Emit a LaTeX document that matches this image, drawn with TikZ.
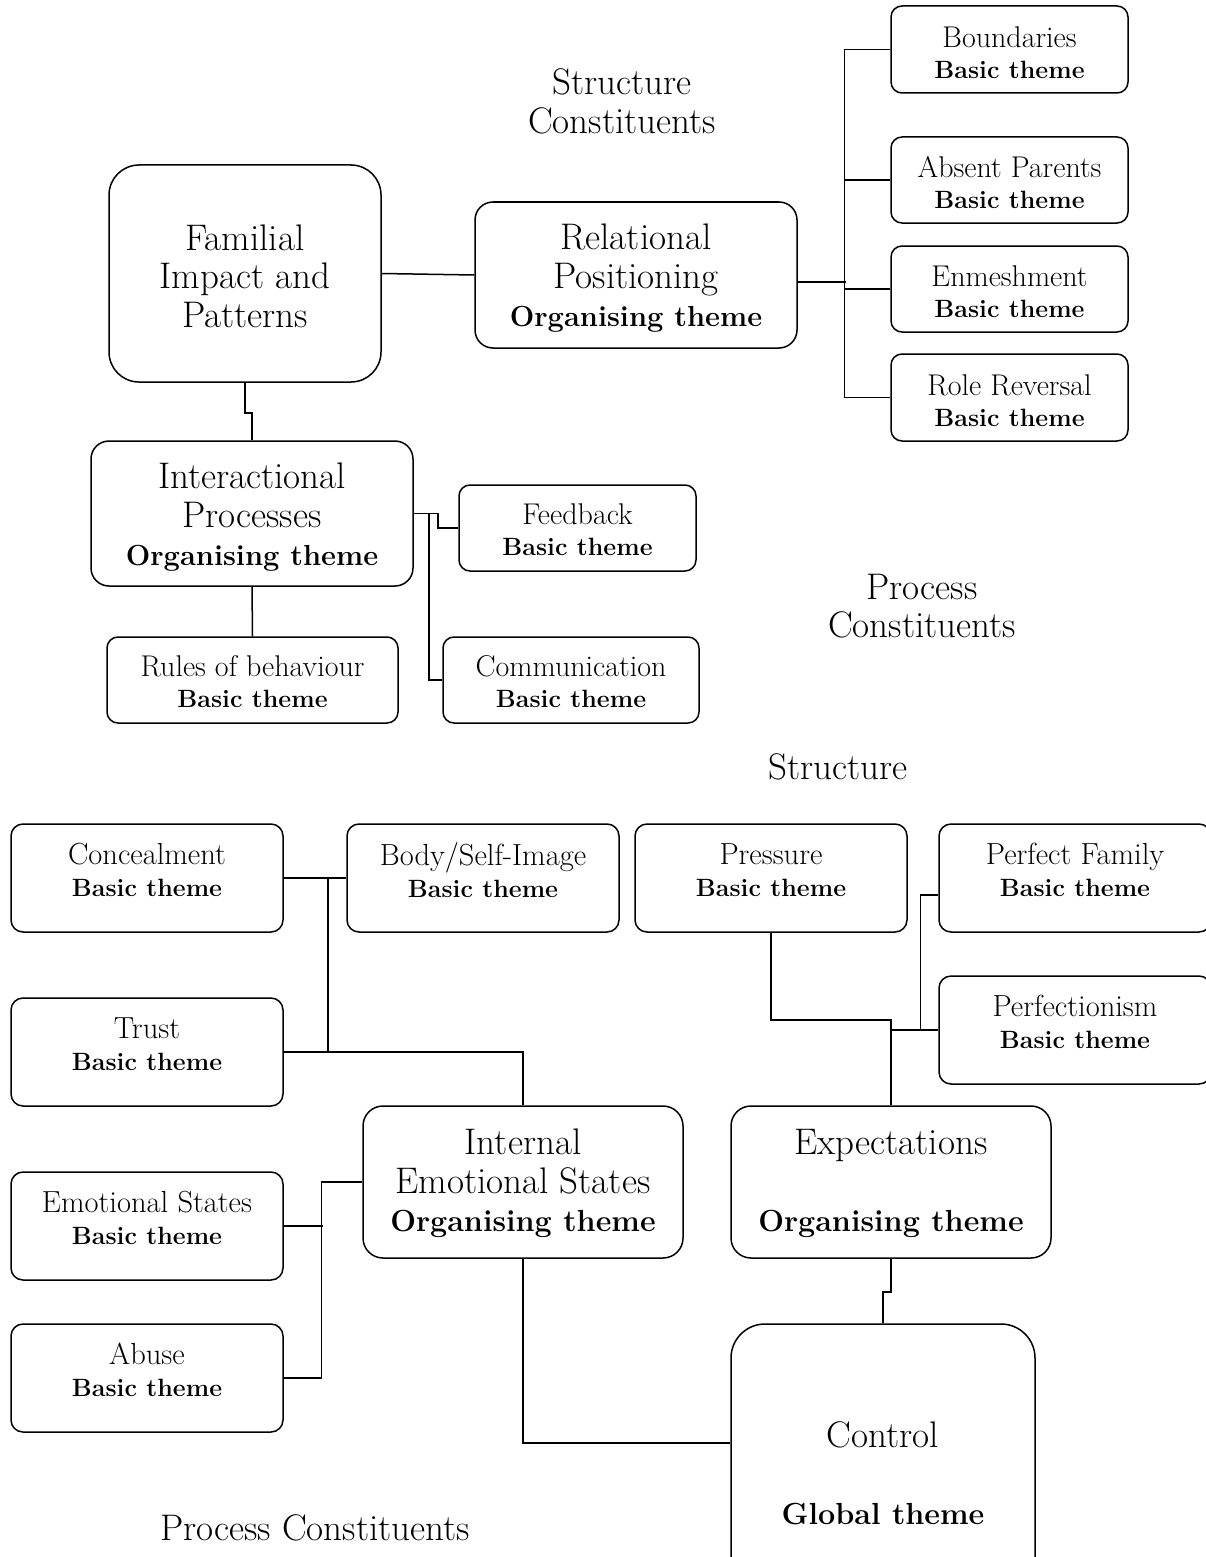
\documentclass[tikz,border=0pt]{standalone}
\usepackage{fontspec}
\newcommand\smr{\fontsize{30}{31}\selectfont}
\newcommand\smrr{\fontsize{30.5}{32}\selectfont}
\newcommand\smb{\fontsize{25}{31}\selectfont\bfseries}
\newcommand\bgr{\fontsize{37}{38.5}\selectfont}
\newcommand\bgb{\fontsize{29}{38.5}\selectfont\bfseries}
\newcommand\bgbb{\fontsize{30.5}{38.5}\selectfont\bfseries}
\newcommand\mylines[2]{\raisebox{#1}[\height][\depth]{\begin{tabular}{@{}c@{}}#2\end{tabular}}}
\begin{document}
\begin{tikzpicture}[x=1pt,y=-1pt,
 conn/.style={line width=1.5pt},
 box/.style={draw, line width=1.5pt, inner sep=0pt},
 sbx/.style={box, rounded corners=11pt, font=\smr},
 sbxb/.style={box, rounded corners=12pt, font=\smrr},
 bbx/.style={box, rounded corners=18pt, font=\bgr},
 lbl/.style={inner sep=0pt, font=\bgr}]
\useasboundingbox (0,0) rectangle (1206,1557);
\clip (0,0) rectangle (1206,1557);
\fill[white] (0,0) rectangle (1206,1557);

% ---------- upper diagram ----------
\node[box, rounded corners=30pt, font=\bgr, minimum width=272pt, minimum height=217pt] (fam) at (245,273.5)
  {\mylines{-7.5pt}{Familial\\Impact and\\Patterns}};
\node[bbx, minimum width=322pt, minimum height=146pt] (rel) at (636,275)
  {\mylines{-5.5pt}{Relational\\Positioning\\\bgb Organising theme}};
\node[bbx, minimum width=322pt, minimum height=145pt] (int) at (252,513.5)
  {\mylines{-6pt}{Interactional\\Processes\\\bgb Organising theme}};

\node[sbx, minimum width=237pt, minimum height=87pt] (bound) at (1009.5,49.5)
  {\mylines{-7pt}{Boundaries\\\smb Basic theme}};
\node[sbx, minimum width=237pt, minimum height=86pt] (absent) at (1009.5,180)
  {\mylines{-7pt}{Absent Parents\\\smb Basic theme}};
\node[sbx, minimum width=237pt, minimum height=86pt] (enm) at (1009.5,289)
  {\mylines{-7pt}{Enmeshment\\\smb Basic theme}};
\node[sbx, minimum width=237pt, minimum height=87pt] (role) at (1009.5,397.5)
  {\mylines{-7pt}{Role Reversal\\\smb Basic theme}};

\node[sbx, minimum width=237pt, minimum height=86pt] (feed) at (577.5,528)
  {\mylines{-6pt}{Feedback\\\smb Basic theme}};
\node[sbx, minimum width=256pt, minimum height=86pt] (comm) at (571,680)
  {\mylines{-6pt}{Communication\\\smb Basic theme}};
\node[sbx, minimum width=291pt, minimum height=86pt] (rules) at (252.5,680)
  {\mylines{-6pt}{Rules of behaviour\\\smb Basic theme}};

\node[lbl] (sc) at (622,102.5) {\mylines{-4pt}{Structure\\Constituents}};
\node[lbl] (pc) at (922,607) {\mylines{-4pt}{Process\\Constituents}};
\node[lbl] (st) at (838,768) {\mylines{-4pt}{Structure}};

\draw[conn] (fam.east) -- (rel.west);
\draw[line width=2.2pt] ([yshift=-7pt]rel.east) -- ++(48,0);
\draw[conn] (bound.west) -- ++(-46,0) |- (role.west);
\draw[conn] (absent.west) -- ++(-46,0);
\draw[conn] (enm.west) -- ++(-46,0);
\draw[conn] (fam.south) -- ++(0,30) -| (int.north);
\draw[conn] (int.east) -- ++(24,0) |- (feed.west);
\draw[conn] ([xshift=15pt]int.east) |- (comm.west);
\draw[conn] (int.south) -- (rules.north);

% ---------- lower diagram ----------
\node[sbxb, minimum width=272pt, minimum height=108pt] (conc) at (147,878)
  {\mylines{3.5pt}{Concealment\\\smb Basic theme}};
\node[sbxb, minimum width=272pt, minimum height=108pt] (body) at (483,878)
  {\mylines{3.5pt}{Body/Self-Image\\\smb Basic theme}};
\node[sbxb, minimum width=272pt, minimum height=108pt] (press) at (771,878)
  {\mylines{3.5pt}{Pressure\\\smb Basic theme}};
\node[sbxb, minimum width=272pt, minimum height=108pt] (pfam) at (1075,878)
  {\mylines{3.5pt}{Perfect Family\\\smb Basic theme}};
\node[sbxb, minimum width=272pt, minimum height=108pt] (perfm) at (1075,1030)
  {\mylines{3.5pt}{Perfectionism\\\smb Basic theme}};
\node[sbxb, minimum width=272pt, minimum height=108pt] (trust) at (147,1052)
  {\mylines{3.5pt}{Trust\\\smb Basic theme}};
\node[sbxb, minimum width=272pt, minimum height=108pt] (emo) at (147,1226)
  {\mylines{3.5pt}{Emotional States\\\smb Basic theme}};
\node[sbxb, minimum width=272pt, minimum height=108pt] (abuse) at (147,1378)
  {\mylines{3.5pt}{Abuse\\\smb Basic theme}};

\node[box, rounded corners=20pt, font=\bgr, minimum width=320pt, minimum height=152pt] (ies) at (523,1182)
  {\mylines{-3.5pt}{Internal\\Emotional States\\\bgbb Organising theme}};
\node[box, rounded corners=20pt, font=\bgr, minimum width=320pt, minimum height=152pt] (exp) at (891,1182)
  {\mylines{-3.5pt}{Expectations\\ \\\bgbb Organising theme}};
\node[box, rounded corners=34pt, font=\bgr, minimum width=304pt, minimum height=302pt] (ctrl) at (883,1475)
  {\mylines{-3.5pt}{Control\\ \\\bgbb Global theme}};

\node[lbl] (pcb) at (315,1529) {\mylines{-4pt}{Process Constituents}};

\draw[conn] (conc.east) -- (body.west);
\draw[conn] ([xshift=44pt]conc.east) |- (trust.east);
\draw[conn] (trust.east) -| (ies.north);
\draw[conn] (ies.west) -- ++(-41,0) |- (abuse.east);
\draw[conn] (emo.east) -- ++(39,0);
\draw[conn] (ies.south) |- ([yshift=32pt]ctrl.west);
\draw[conn] (press.south) -- ++(0,87) -| (exp.north);
\draw[conn] (perfm.west) -- (perfm.west -| exp.north);
\draw[conn] ([yshift=-17pt]pfam.west) -- ++(-18,0) |- (perfm.west);
\draw[conn] (exp.south) -- ++(0,33) -| (ctrl.north);
\end{tikzpicture}
\end{document}
